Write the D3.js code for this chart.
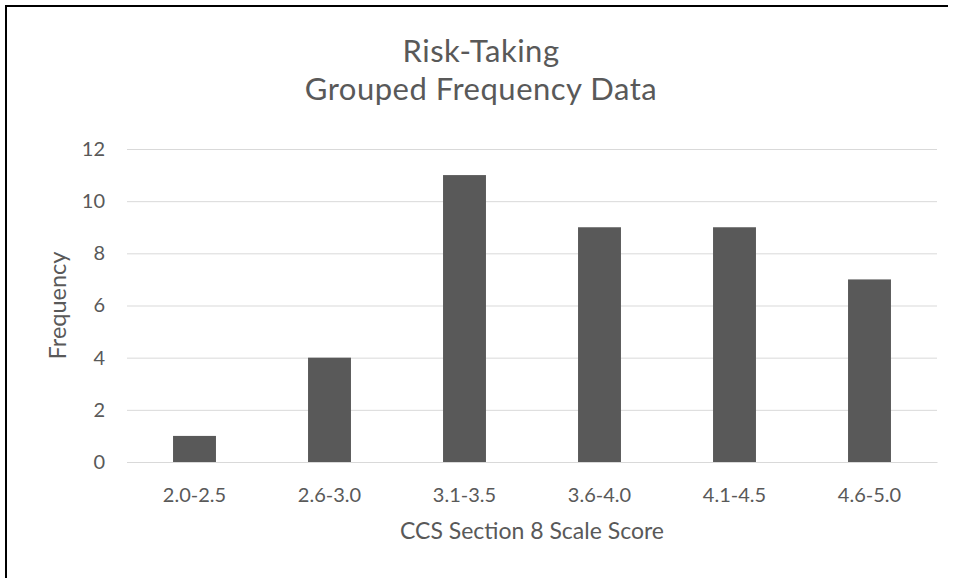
<!DOCTYPE html>
<html><head><meta charset="utf-8">
<script src="https://cdn.jsdelivr.net/npm/d3@7"></script>
<style>body{margin:0;background:#fff}svg{display:block}text{font-family:Lato,"Open Sans",sans-serif;fill:#595959}</style>
</head><body>
<script>
const categories = ["2.0-2.5","2.6-3.0","3.1-3.5","3.6-4.0","4.1-4.5","4.6-5.0"];
const frequency = [1,4,11,9,9,7];
const yTicks = [0,2,4,6,8,10,12];
const titleLines = ["Risk-Taking","Grouped Frequency Data"];
const xTitle = "CCS Section 8 Scale Score";
const yTitle = "Frequency";

const W=958,H=578;
const svg=d3.select("body").append("svg").attr("width",W).attr("height",H);
const m={left:127,right:W-937,top:149,bottom:H-462};
const x=d3.scaleBand().domain(categories).range([m.left,W-m.right]).padding(0);
const y=d3.scaleLinear().domain([0,12]).range([H-m.bottom,m.top]);

// border (partially visible frame)
svg.append("line").attr("x1",6).attr("x2",6).attr("y1",5).attr("y2",H).attr("stroke","#000").attr("stroke-width",2);
svg.append("line").attr("x1",5).attr("x2",948).attr("y1",6).attr("y2",6).attr("stroke","#000").attr("stroke-width",2);

// gridlines
const yAxis=d3.axisLeft(y).tickValues(yTicks).tickSize(-(W-m.left-m.right)).tickPadding(22);
const gy=svg.append("g").attr("transform",`translate(${m.left},0)`).call(yAxis);
gy.select(".domain").remove();
gy.selectAll(".tick line").attr("stroke","#d9d9d9").attr("stroke-width",1);
gy.selectAll(".tick text").attr("font-size",20).style("fill","#595959").attr("font-family","Lato");

// bars
const bw=x.bandwidth()*0.318;
svg.append("g").selectAll("rect").data(categories).join("rect")
  .attr("x",(d)=>x(d)+(x.bandwidth()-bw)/2)
  .attr("width",bw)
  .attr("y",(d,i)=>y(frequency[i]))
  .attr("height",(d,i)=>y(0)-y(frequency[i]))
  .attr("fill","#595959");

// x axis
const xAxis=d3.axisBottom(x).tickSize(0).tickPadding(26);
const gx=svg.append("g").attr("transform",`translate(0,${y(0)})`).call(xAxis);
gx.select(".domain").attr("stroke","#d9d9d9");
gx.selectAll(".tick text").attr("font-size",20).style("fill","#595959").attr("font-family","Lato");

// titles
titleLines.forEach((t,i)=>{
  svg.append("text").attr("x",481).attr("y",62+i*37.5).attr("text-anchor","middle")
    .attr("font-size",31).attr("letter-spacing",0.5).text(t);
});
svg.append("text").attr("x",(m.left+W-m.right)/2).attr("y",539).attr("text-anchor","middle").attr("font-size",23).text(xTitle);
svg.append("text").attr("transform",`translate(66,${(m.top+H-m.bottom)/2}) rotate(-90)`).attr("text-anchor","middle").attr("font-size",23.5).text(yTitle);
</script>
</body></html>
